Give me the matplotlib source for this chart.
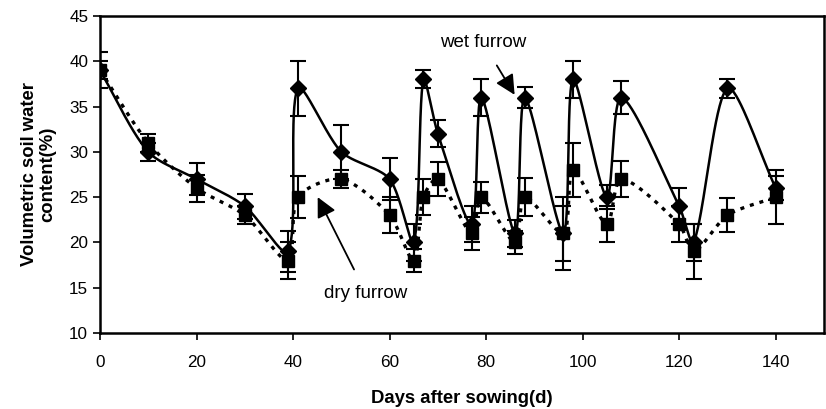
import numpy as np
import matplotlib
matplotlib.use("Agg")
import matplotlib.pyplot as plt

days = [0, 10, 20, 30, 39, 41, 50, 60, 65, 67, 70, 77, 79, 86, 88, 96, 98, 105, 108, 120, 123, 130, 140]
wet = [39, 30, 27, 24, 19, 37, 30, 27, 20, 38, 32, 22, 36, 21, 36, 21, 38, 25, 36, 24, 20, 37, 26]
wet_err = [2, 1, 1.8, 1.4, 2.3, 3, 3, 2.3, 2, 1, 1.5, 2, 2, 1.5, 1.2, 3, 2, 1.3, 1.8, 2, 2, 1, 1.3]
dry = [39, 31, 26, 23, 18, 25, 27, 23, 18, 25, 27, 21, 25, 20, 25, 21, 28, 22, 27, 22, 19, 23, 25]
dry_err = [1, 1, 1.5, 1, 2, 2.3, 1, 2, 1.3, 2, 1.9, 1.8, 1.7, 1.3, 2.1, 4, 3, 2, 2, 2, 3, 1.9, 3]

xticks = [0, 20, 40, 60, 80, 100, 120, 140]
yticks = [10, 15, 20, 25, 30, 35, 40, 45]

plt.rcParams['font.family'] = ['Liberation Sans', 'DejaVu Sans']

W, H = 826, 409
AX_L, AX_R, AX_T, AX_B = 100, 824, 16, 333
XLIM = (0, 150)
YLIM = (10, 45)
SX = (AX_R - AX_L) / (XLIM[1] - XLIM[0])
SY = (AX_B - AX_T) / (YLIM[1] - YLIM[0])


def smooth(x, y, n=40, k=0.28):
    # Bezier smoothing computed in screen space, distance-weighted tangents
    P = np.column_stack([np.asarray(x, float) * SX, np.asarray(y, float) * SY])
    m = len(P)
    T = np.zeros_like(P)
    for i in range(m):
        a = P[max(i - 1, 0)]
        b = P[min(i + 1, m - 1)]
        T[i] = b - a
    d = np.linalg.norm(np.diff(P, axis=0), axis=1)
    t = np.linspace(0, 1, n)[:, None]
    out = []
    for i in range(m - 1):
        p0, p3 = P[i], P[i + 1]
        dprev = d[i - 1] if i > 0 else 0.0
        dnext = d[i + 1] if i + 1 < m - 1 else 0.0
        f1 = d[i] / (dprev + d[i]) if (dprev + d[i]) > 0 else 0
        f2 = d[i] / (d[i] + dnext) if (d[i] + dnext) > 0 else 0
        c1 = p0 + T[i] * f1 * k
        c2 = p3 - T[i + 1] * f2 * k
        b = (1 - t) ** 3 * p0 + 3 * (1 - t) ** 2 * t * c1 + 3 * (1 - t) * t ** 2 * c2 + t ** 3 * p3
        out.append(b)
    out = np.vstack(out)
    return out[:, 0] / SX, out[:, 1] / SY


fig = plt.figure(figsize=(W / 100, H / 100), dpi=100)
ax = fig.add_axes([AX_L / W, 1 - AX_B / H, (AX_R - AX_L) / W, (AX_B - AX_T) / H])

sx, sy = smooth(days, dry)
ax.plot(sx, sy, color='black', lw=2.4, linestyle=(0, (1.2, 1.8)), zorder=2)
ax.errorbar(days, dry, yerr=dry_err, fmt='s', color='black', ms=9, capsize=6,
            elinewidth=1.5, capthick=1.5, zorder=3)

wx, wy = smooth(days, wet)
ax.plot(wx, wy, color='black', lw=1.8, zorder=4)
ax.errorbar(days, wet, yerr=wet_err, fmt='D', color='black', ms=8, capsize=6,
            elinewidth=1.5, capthick=1.5, zorder=5)

arrow = dict(arrowstyle='-|>,head_length=0.8,head_width=0.4', color='black', lw=1.3,
             mutation_scale=15, shrinkA=10, shrinkB=0)
ax.annotate('wet furrow', xy=(85.9, 36.3), xytext=(79.3, 42.1), ha='center', va='center',
            fontsize=13.5, arrowprops=arrow)
ax.annotate('dry furrow', xy=(45.1, 25.0), xytext=(55.1, 14.4), ha='center', va='center',
            fontsize=13.5, arrowprops=arrow)

ax.set_xlim(*XLIM)
ax.set_ylim(*YLIM)
ax.set_xticks(xticks)
ax.set_yticks(yticks)
ax.tick_params(axis='both', direction='out', length=5, width=1.2, labelsize=12.3, colors='black')
ax.tick_params(axis='x', pad=11)
for s in ax.spines.values():
    s.set_linewidth(1.8)
    s.set_color('black')

ax.set_xlabel('Days after sowing(d)', fontsize=13.3, fontweight='bold', labelpad=14)
ax.set_ylabel('Volumetric soil water\ncontent(%)', fontsize=13.3, fontweight='bold', labelpad=9,
              linespacing=1.15)

fig.savefig('out.png', dpi=100)
